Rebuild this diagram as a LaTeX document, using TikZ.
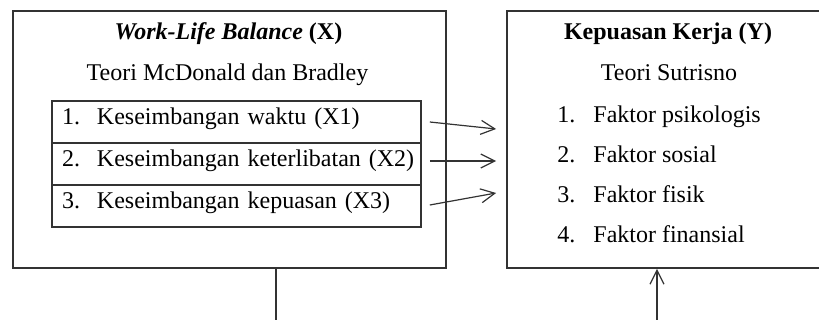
\documentclass[tikz,border=0pt]{standalone}
\usepackage{fontspec}
\setmainfont{Liberation Serif}
\usetikzlibrary{arrows.meta,positioning}
\definecolor{ink}{RGB}{51,51,51}
\tikzstyle{frame}=[draw=ink, line width=0.9pt, inner sep=0pt]
\tikzstyle{row}=[draw=ink, line width=0.8pt, minimum width=184.5pt, text width=174.5pt, inner xsep=5pt, inner ysep=0pt, text height=12pt, text depth=9pt, align=left]
\tikzstyle{item}=[anchor=base west, inner sep=0pt]
\tikzstyle{head}=[anchor=base, inner sep=0pt]
\tikzstyle{link}=[draw=ink, line width=0.6pt, -{Straight Barb[length=7pt,width=7pt]}]

\begin{document}
\begin{tikzpicture}[x=0.5pt,y=-0.5pt,font=\fontsize{12}{14}\selectfont]
    \useasboundingbox (0,0) rectangle (819,320);
    \clip (0,0) rectangle (819,320);
    % variabel X
    \node [frame, minimum width=216.5pt, minimum height=128.5pt] (wlb) at (229.5,139.5) {};
    \node [head] (wlbtitle) at (228.5,40) {{\bfseries\itshape Work-Life Balance} \textbf{(X)}};
    \node [head] (wlbteori) at (227.5,81) {Teori McDonald dan Bradley};
    \node [row] (x1) at (236.5,122) {\makebox[17.5pt][l]{1.}\mbox{Keseimbangan waktu (X1)}};
    \node [row] (x2) at (236.5,164) {\makebox[17.5pt][l]{2.}\mbox{Keseimbangan keterlibatan (X2)}};
    \node [row] (x3) at (236.5,206) {\makebox[17.5pt][l]{3.}\mbox{Keseimbangan kepuasan (X3)}};
    % variabel Y
    \node [frame, minimum width=164pt, minimum height=128.5pt] (ky) at (671,139.5) {};
    \node [head] (kytitle) at (668,40) {\textbf{Kepuasan Kerja (Y)}};
    \node [head] (kyteori) at (669,81) {Teori Sutrisno};
    \node [item] (y1) at (557,123) {\makebox[18pt][l]{1.}Faktor psikologis};
    \node [item] (y2) at (557,163) {\makebox[18pt][l]{2.}Faktor sosial};
    \node [item] (y3) at (557,203) {\makebox[18pt][l]{3.}Faktor fisik};
    \node [item] (y4) at (557,243) {\makebox[18pt][l]{4.}Faktor finansial};
    \coordinate (lb) at (276,330);
    \coordinate (rb) at (657,330);
    \draw [link] ([xshift=4pt]x1.east) -- ([xshift=-5pt,yshift=5.25pt]ky.west);
    \draw [link] ([xshift=4pt,yshift=1.5pt]x2.east) -- ([xshift=-5pt,yshift=-10.75pt]ky.west);
    \draw [link] ([xshift=4pt,yshift=0.5pt]x3.east) -- ([xshift=-5pt,yshift=-26.75pt]ky.west);
    \draw [draw=ink, line width=0.6pt] ([xshift=23.25pt]wlb.south) -- (lb);
    \draw [link] (rb) -- ([xshift=-7pt]ky.south);
\end{tikzpicture}
\end{document}
